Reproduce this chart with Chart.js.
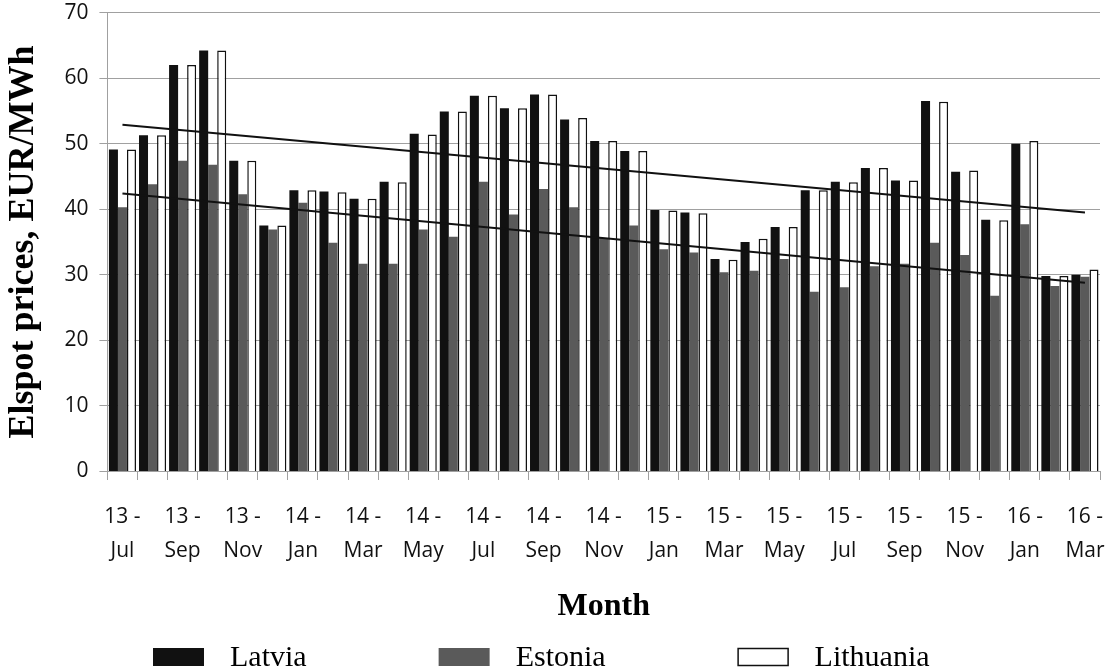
<!DOCTYPE html>
<html>
<head>
<meta charset="utf-8">
<script src="https://cdn.jsdelivr.net/npm/chart.js@4.4.0/dist/chart.umd.min.js"></script>
<style>
  body { margin: 0; background: #fff; }
  #wrap { width: 1110px; height: 670px; }
</style>
</head>
<body>
<div id="wrap"><canvas id="c" width="1110" height="670"></canvas></div>
<script>
// months Jul 2013 .. Mar 2016
const months = ['13-Jul','13-Aug','13-Sep','13-Oct','13-Nov','13-Dec',
    '14-Jan','14-Feb','14-Mar','14-Apr','14-May','14-Jun','14-Jul','14-Aug','14-Sep','14-Oct','14-Nov','14-Dec',
    '15-Jan','15-Feb','15-Mar','15-Apr','15-May','15-Jun','15-Jul','15-Aug','15-Sep','15-Oct','15-Nov','15-Dec',
    '16-Jan','16-Feb','16-Mar'];

const latvia = [49.1, 51.3, 62.0, 64.2, 47.4, 37.5, 42.9, 42.7, 41.6, 44.2, 51.5, 54.9, 57.3, 55.4, 57.5, 53.7, 50.4,
    48.9, 39.9, 39.5, 32.4, 35.0, 37.3, 42.9, 44.2, 46.3, 44.4, 56.5, 45.7, 38.4, 50.0, 29.8, 30.0];
const estonia = [40.3, 43.8, 47.4, 46.8, 42.3, 36.9, 41.0, 34.9, 31.7, 31.7, 36.9, 35.8, 44.2, 39.2, 43.1, 40.3, 35.6,
    37.5, 33.9, 33.4, 30.4, 30.6, 32.4, 27.4, 28.1, 31.3, 31.7, 34.9, 33.0, 26.8, 37.7, 28.3, 29.7];
const lithuania = [49.1, 51.3, 62.0, 64.2, 47.4, 37.5, 42.9, 42.6, 41.6, 44.1, 51.4, 54.9, 57.3, 55.4, 57.5, 53.9, 50.4,
    48.9, 39.8, 39.4, 32.3, 35.5, 37.3, 42.9, 44.1, 46.3, 44.4, 56.4, 45.9, 38.3, 50.4, 29.8, 30.8];

// trend lines: value at first and last month
const trendLatLit = [52.9, 39.5];
const trendEst = [42.4, 28.8];

const yTicks = [0, 10, 20, 30, 40, 50, 60, 70];

// legend drawn by hand so spacing matches the figure
const bottomLegend = {
    id: 'bottomLegend',
    afterDraw(chart) {
        const ctx = chart.ctx;
        ctx.save();
        ctx.font = '30px "Liberation Serif", "Times New Roman", serif';
        ctx.textBaseline = 'middle';
        let x = 153;
        const y = 657;
        chart.data.datasets.filter(d => d.type === 'bar').forEach(d => {
            ctx.fillStyle = d.backgroundColor;
            ctx.fillRect(x, y - 9, 51, 18);
            if (d.borderWidth) {
                ctx.strokeStyle = d.borderColor;
                ctx.lineWidth = 1.5;
                ctx.strokeRect(x + 0.5, y - 8.5, 50, 17);
            }
            x += 51 + 26;
            ctx.fillStyle = '#000';
            ctx.fillText(d.label, x, y + 1);
            x += ctx.measureText(d.label).width + 132;
        });
        ctx.restore();
    }
};

new Chart(document.getElementById('c'), {
    data: {
        labels: months,
        datasets: [
            {type: 'line', label: 'trend1', data: [{x: months[0], y: trendLatLit[0]}, {x: months[months.length - 1], y: trendLatLit[1]}],
                borderColor: '#111', borderWidth: 2, pointRadius: 0, order: 0},
            {type: 'line', label: 'trend2', data: [{x: months[0], y: trendEst[0]}, {x: months[months.length - 1], y: trendEst[1]}],
                borderColor: '#111', borderWidth: 2, pointRadius: 0, order: 0},
            {type: 'bar', label: 'Latvia', data: latvia, backgroundColor: '#111111', borderWidth: 0, order: 1},
            {type: 'bar', label: 'Estonia', data: estonia, backgroundColor: '#5a5a5a', borderWidth: 0, order: 1},
            {type: 'bar', label: 'Lithuania', data: lithuania, backgroundColor: '#ffffff', borderColor: '#111111', borderWidth: 1.5, order: 1}
        ]
    },
    options: {
        responsive: false,
        animation: false,
        categoryPercentage: 0.9,
        barPercentage: 1.0,
        layout: {padding: {left: 3, right: 10, top: 0, bottom: 44}},
        plugins: {legend: {display: false}, tooltip: {enabled: false}},
        scales: {
            x: {
                offset: true,
                // long tick length keeps the labels away from the axis, dash shows only 8px of it
                grid: {offset: true, drawOnChartArea: false, drawTicks: true, tickLength: 29, tickBorderDash: [8, 60], color: '#a0a0a0'},
                border: {color: '#a0a0a0'},
                ticks: {
                    autoSkip: false, maxRotation: 0, minRotation: 0, padding: 0, color: '#111',
                    font: {family: '"Open Sans", sans-serif', size: 21, lineHeight: 1.6},
                    callback: (v, i) => {
                        if (i % 2) return '';
                        const p = months[i].split('-');
                        return [p[0] + ' -', p[1]];
                    }
                },
                title: {display: true, text: 'Month', color: '#000', padding: {top: 20, bottom: 0},
                    font: {family: '"Liberation Serif", serif', size: 32, weight: 'bold', lineHeight: 1.2}}
            },
            y: {
                min: 0, max: 70,
                afterBuildTicks: s => { s.ticks = yTicks.map(v => ({value: v})); },
                // y ticks are drawn from the outer end towards the axis
                grid: {color: '#a0a0a0', tickLength: 19, tickBorderDash: [0, 11, 8, 60]},
                border: {color: '#a0a0a0'},
                ticks: {padding: 0, color: '#111', font: {family: '"Open Sans", sans-serif', size: 21}},
                title: {display: true, text: 'Elspot prices, EUR/MWh', color: '#000', padding: {top: 0, bottom: 20},
                    font: {family: '"Liberation Serif", serif', size: 36, weight: 'bold', lineHeight: 1.15}}
            }
        }
    },
    plugins: [bottomLegend]
});
</script>
</body>
</html>
